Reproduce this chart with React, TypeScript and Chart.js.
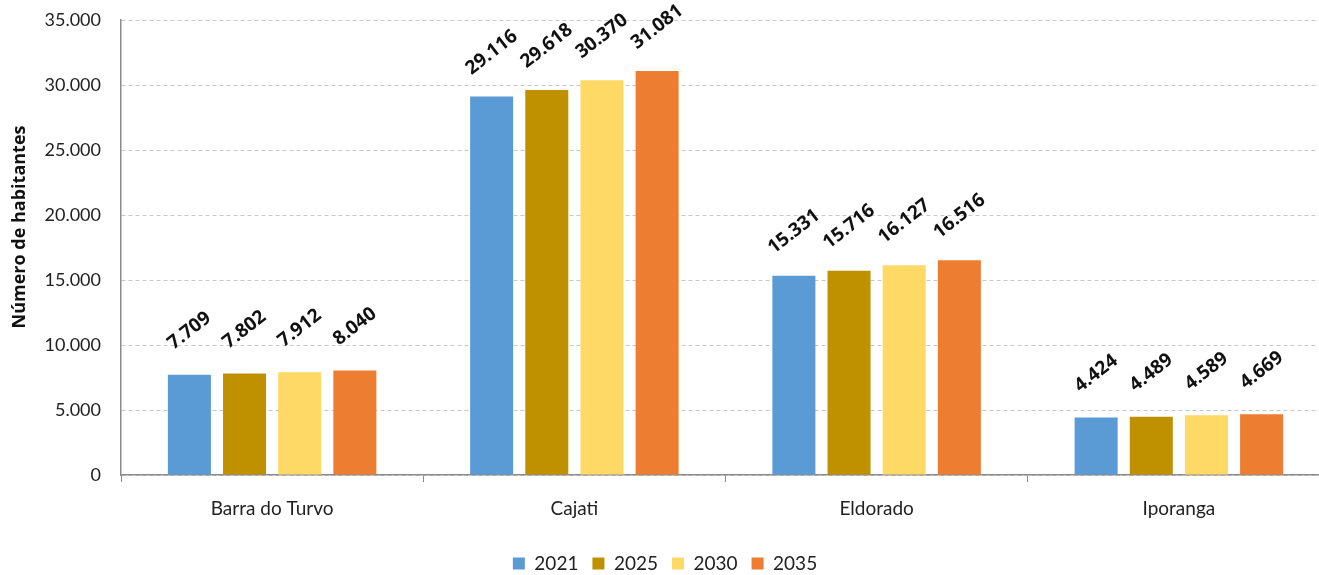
import React, { useEffect, useRef } from "react";
import { Chart, registerables } from "chart.js";

Chart.register(...registerables);

const categories = ["Barra do Turvo", "Cajati", "Eldorado", "Iporanga"];
const years = ["2021", "2025", "2030", "2035"];
const values2021 = [7709, 29116, 15331, 4424];
const values2025 = [7802, 29618, 15716, 4489];
const values2030 = [7912, 30370, 16127, 4589];
const values2035 = [8040, 31081, 16516, 4669];
const colors = ["#5B9BD5", "#BF9000", "#FFD966", "#ED7D31"];
const yTicks = [0, 5000, 10000, 15000, 20000, 25000, 30000, 35000];
const yTitle = "Número de habitantes";

const fmt = (v: number) => {
  const s = Math.round(v).toString();
  return s.replace(/\B(?=(\d{3})+(?!\d))/g, ".");
};

const labelPlugin = {
  id: "rotLabels",
  afterDatasetsDraw(chart: any) {
    const ctx = chart.ctx;
    ctx.save();
    ctx.font = "bold 19px 'Open Sans'";
    ctx.fillStyle = "#111";
    ctx.textAlign = "center";
    ctx.textBaseline = "middle";
    chart.data.datasets.forEach((ds: any, i: number) => {
      const meta = chart.getDatasetMeta(i);
      meta.data.forEach((bar: any, j: number) => {
        ctx.save();
        ctx.translate(bar.x, bar.y - 44);
        ctx.rotate((-38 * Math.PI) / 180);
        ctx.fillText(fmt(ds.data[j]), 0, 0);
        ctx.restore();
      });
    });
    // y axis title
    ctx.save();
    ctx.font = "bold 18px 'Open Sans'";
    ctx.fillStyle = "#111";
    ctx.translate(20, 227);
    ctx.rotate(-Math.PI / 2);
    ctx.fillText(yTitle, 0, 0);
    ctx.restore();
    ctx.restore();
  },
};

export default function App() {
  const ref = useRef<HTMLCanvasElement>(null);
  useEffect(() => {
    document.body.style.margin = "0";
    const series = [values2021, values2025, values2030, values2035];
    const chart = new Chart(ref.current!, {
      type: "bar",
      data: {
        labels: categories,
        datasets: years.map((y, i) => ({
          label: y,
          data: series[i],
          backgroundColor: colors[i],
          categoryPercentage: 0.73,
          barPercentage: 0.78,
        })),
      },
      plugins: [labelPlugin],
      options: {
        animation: false,
        responsive: false,
        layout: { padding: { top: 20, right: 0, left: 0, bottom: -8 } },
        plugins: {
          tooltip: { enabled: false },
          legend: {
            position: "bottom",
            labels: {
              boxWidth: 12,
              boxHeight: 12,
              padding: 14,
              color: "#222",
              font: { size: 19, family: "Lato" },
            },
          },
        },
        scales: {
          x: {
            grid: {
              display: true,
              drawOnChartArea: false,
              offset: true,
              tickLength: 7,
              color: "#8c8c8c",
            },
            border: { color: "#8c8c8c", width: 1.5 },
            ticks: {
              color: "#222",
              font: { size: 19, family: "Lato" },
              padding: 15,
            },
            afterFit: (scale: any) => {
              scale.height = 65;
            },
          },
          y: {
            min: 0,
            max: 35000,
            afterBuildTicks: (scale: any) => {
              scale.ticks = yTicks.map((v) => ({ value: v }));
            },
            afterFit: (scale: any) => {
              scale.width = 121;
              scale.paddingTop = 0;
              scale.paddingBottom = 0;
            },
            grid: {
              color: "#c8c8c8",
              drawTicks: false,
            },
            border: { color: "#8c8c8c", width: 1.5, dash: [4, 3] },
            ticks: {
              color: "#222",
              font: { size: 18, family: "Lato" },
              padding: 20,
              callback: (v: any) => fmt(Number(v)),
            },
          },
        },
      } as any,
    });
    return () => chart.destroy();
  }, []);
  return (
    <div style={{ position: "absolute", left: 0, top: 0, width: 1319, height: 575, overflow: "hidden" }}>
      <canvas ref={ref} width={1330} height={575} />
    </div>
  );
}
